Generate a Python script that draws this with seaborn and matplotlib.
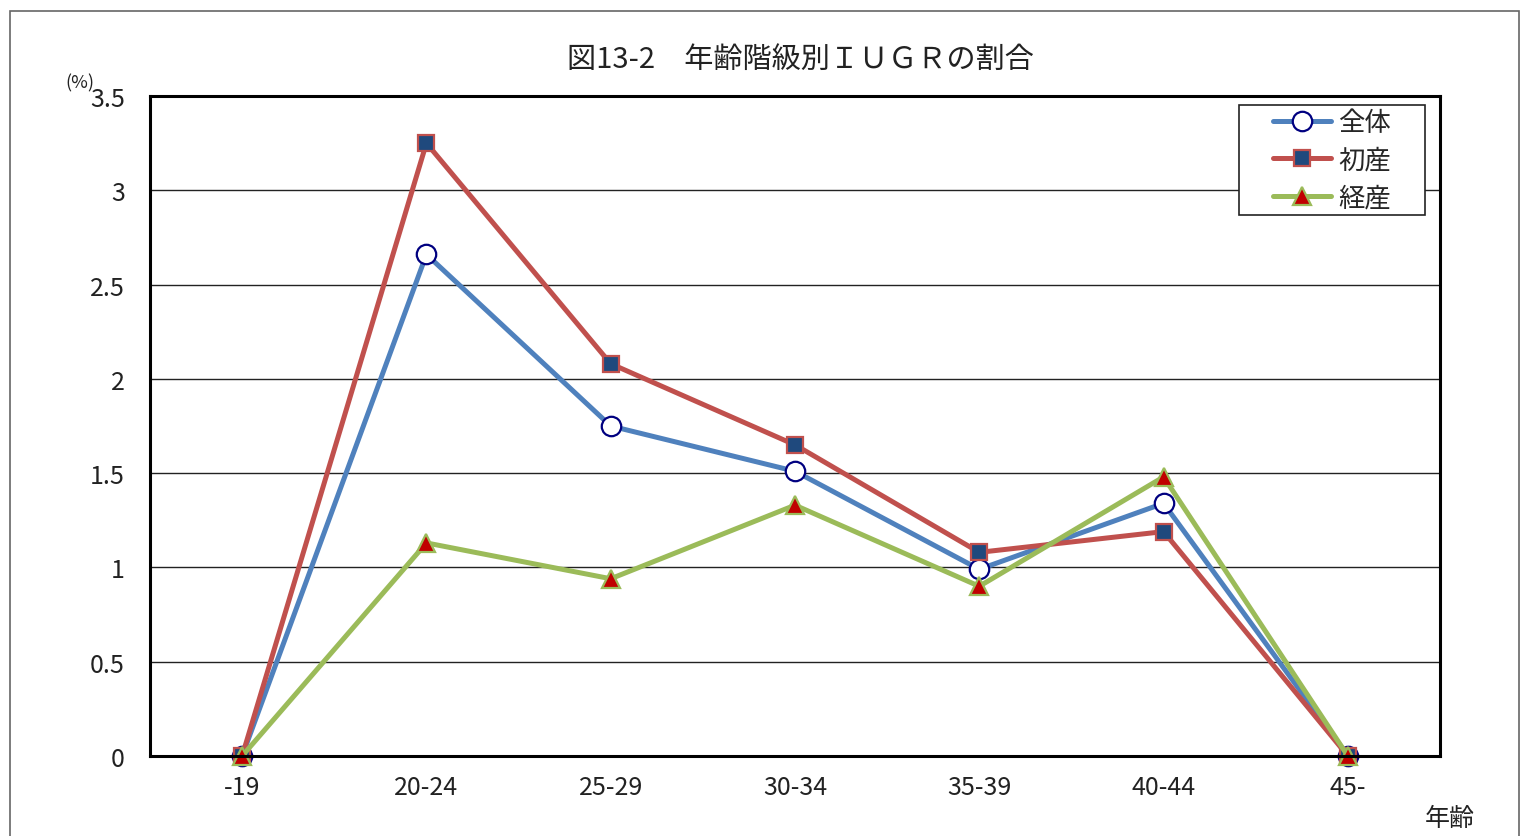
import matplotlib
matplotlib.use("Agg")
import matplotlib.pyplot as plt
from matplotlib.patches import Rectangle
from matplotlib.ticker import FixedLocator, NullFormatter
import seaborn as sns
import pandas as pd

# Age groups and IUGR rate (%) by parity
age_groups = ["-19", "20-24", "25-29", "30-34", "35-39", "40-44", "45-"]
total = [0.0, 2.66, 1.75, 1.51, 0.99, 1.34, 0.0]
primipara = [0.0, 3.25, 2.08, 1.65, 1.08, 1.19, 0.0]
multipara = [0.0, 1.13, 0.94, 1.33, 0.90, 1.48, 0.0]
series_names = ["全体", "初産", "経産"]
y_ticks = [0, 0.5, 1, 1.5, 2, 2.5, 3, 3.5]
y_tick_labels = ["0", "0.5", "1", "1.5", "2", "2.5", "3", "3.5"]

sns.set_style("white")
plt.rcParams["font.family"] = ["Noto Sans CJK JP", "DejaVu Sans"]

W, H = 1521, 837
fig = plt.figure(figsize=(W / 100, H / 100), dpi=100)
ax = fig.add_axes([150 / W, 1 - 757 / H, 1290 / W, 660 / H])

pos = list(range(len(age_groups)))
df = pd.DataFrame({"pos": pos, "全体": total, "初産": primipara, "経産": multipara})

styles = {
    "全体": dict(color="#4F81BD", marker="o", markersize=14, markerfacecolor="white",
               markeredgecolor="#000080", markeredgewidth=1.6),
    "初産": dict(color="#C0504D", marker="s", markersize=12, markerfacecolor="#1F497D",
               markeredgecolor="#C0504D", markeredgewidth=1.6),
    "経産": dict(color="#9BBB59", marker="^", markersize=13, markerfacecolor="#C00000",
               markeredgecolor="#9BBB59", markeredgewidth=1.6),
}

for name in series_names:
    sns.lineplot(data=df, x="pos", y=name, ax=ax, linewidth=3.6, label=name,
                 clip_on=False, **styles[name])

ax.set_xlim(-0.5, len(age_groups) - 0.5)
ax.set_ylim(0, 3.5)
ax.set_xticks(pos)
ax.set_xticklabels(age_groups, fontsize=18)
ax.xaxis.set_minor_locator(FixedLocator([p + 0.5 for p in pos[:-1]]))
ax.xaxis.set_minor_formatter(NullFormatter())
ax.tick_params(axis="x", which="major", length=0, pad=13, colors="#222222")
ax.tick_params(axis="x", which="minor", length=6, width=1, direction="in", color="#555555")
ax.set_yticks(y_ticks)
ax.set_yticklabels(y_tick_labels, fontsize=18)
ax.tick_params(axis="y", length=0, pad=18, colors="#222222")
ax.set_xlabel("")
ax.set_ylabel("")

ax.grid(axis="y", color="#222222", linewidth=1)
ax.set_axisbelow(True)
for side in ["left", "bottom", "top", "right"]:
    ax.spines[side].set_visible(True)
    ax.spines[side].set_color("black")
    ax.spines[side].set_linewidth(2.2)

# legend entries centred in a separately drawn box
box_x0, box_x1, box_y0, box_y1 = 1239, 1425, 106, 216
leg = ax.legend(loc="center", fontsize=19, frameon=False, handlelength=2.2,
                handletextpad=0.25, borderpad=0, labelspacing=0.4, borderaxespad=0)
leg.set_bbox_to_anchor(((box_x0 + box_x1) / 2 / W, 1 - (box_y0 + box_y1) / 2 / H),
                       transform=fig.transFigure)
leg.set_zorder(6)
ax.add_patch(Rectangle((box_x0 / W, 1 - box_y1 / H), (box_x1 - box_x0) / W,
                       (box_y1 - box_y0) / H, transform=fig.transFigure,
                       facecolor="white", edgecolor="#222222", linewidth=1.2,
                       zorder=5, clip_on=False))

fig.text(800 / W, 1 - 60 / H, "図13-2　年齢階級別ＩＵＧＲの割合", fontsize=21,
         ha="center", va="center", color="#222222")
fig.text(80 / W, 1 - 83 / H, "(%)", fontsize=13, ha="center", va="center",
         color="#222222")
fig.text(1450 / W, 1 - 819 / H, "年齢", fontsize=18, ha="center", va="center",
         color="#222222")

# outer chart frame
fig.patches.append(Rectangle((10 / W, -0.05), 1509 / W, 1.05 - 12 / H,
                             transform=fig.transFigure, fill=False,
                             edgecolor="#666666", linewidth=1.2))

fig.savefig("out.png", dpi=100, facecolor="white")
